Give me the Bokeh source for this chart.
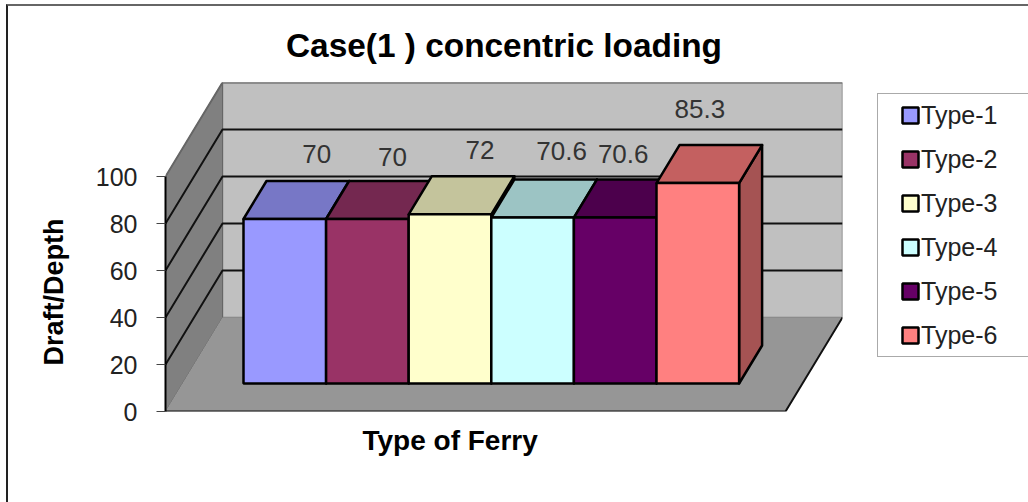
from bokeh.plotting import figure
from bokeh.embed import file_html
from bokeh.resources import INLINE
from bokeh.models import Range1d, FixedTicker, Legend, LegendItem, Title, InlineStyleSheet
from bokeh.core.properties import value

# ---------- data ----------
categories = ["Type-1", "Type-2", "Type-3", "Type-4", "Type-5", "Type-6"]
draft_depth = [70, 70, 72, 70.6, 70.6, 85.3]
value_labels = ["70", "70", "72", "70.6", "70.6", "85.3"]
y_ticks = [0, 20, 40, 60, 80, 100]
front_colors = ["#9999FF", "#993366", "#FFFFCC", "#CCFFFF", "#660066", "#FF8080"]
top_colors = ["#7777C6", "#742850", "#C4C49C", "#9CC4C4", "#4C004C", "#C46060"]
side_colors = ["#636399", "#5E2040", "#A6A685", "#85A6A6", "#420042", "#A55353"]

# ---------- 3D layout (pixels of one bar / one unit) ----------
FONT = "Liberation Sans"
PX_X = 82.6     # pixels per bar
PX_Y = 2.35     # pixels per value unit
FRAME_W, FRAME_H = 677, 329
ux = lambda px: px / PX_X
uy = lambda px: px / PX_Y

x0 = ux(165 - 243)              # front-left corner of the floor
floor_w = ux(785 - 165)
wall_dx, wall_dy = ux(57), uy(94)
bar_dx, bar_dy = ux(23), uy(38)
bar_base = uy(28)
x_end = x0 + ux(FRAME_W)
y_end = uy(FRAME_H)
# hand-placed data labels, as in the source chart (pixels from bar centre / bar top)
label_dx = [32, 25, 30, 29, 8, 2]
label_dy = [65, 62, 64, 67, 64, 74]

p = figure(
    output_backend="svg", toolbar_location=None,
    frame_width=FRAME_W, frame_height=FRAME_H,
    min_border_left=157, min_border_right=186, min_border_top=76, min_border_bottom=91,
    x_range=Range1d(x0, x_end), y_range=Range1d(0, y_end),
    title="Case(1 ) concentric loading",
    margin=(4, 0, 0, 6),
    background_fill_color="white", border_fill_color="white",
    outline_line_color=None,
)
p.styles = {"border-left": "2px solid #222222", "border-top": "2px solid #666666"}
p.grid.visible = False
p.title.align = "center"
p.title.text_font = FONT
p.title.text_font_size = "33.4px"
p.title.text_font_style = "bold"
p.title.text_color = "#000000"
p.title.standoff = 37

ya = p.yaxis[0]
ya.ticker = FixedTicker(ticks=y_ticks)
ya.bounds = (0, 100)
ya.axis_line_color = "#000000"
ya.axis_line_width = 2
ya.major_tick_line_color = "#444444"
ya.major_tick_line_width = 1
ya.major_tick_out = 9
ya.major_tick_in = 0
ya.minor_tick_line_color = None
ya.major_label_standoff = 19
ya.major_label_text_font = FONT
ya.major_label_text_font_size = "25px"
ya.major_label_text_color = "#222222"

xa = p.xaxis[0]
xa.ticker = FixedTicker(ticks=[])
xa.axis_line_color = None
xa.major_tick_line_color = None
xa.minor_tick_line_color = None
xa.major_label_text_font_size = "0px"

# walls and floor
p.patch([x0 + wall_dx, x_end, x_end, x0 + wall_dx],
        [wall_dy, wall_dy, wall_dy + 100, wall_dy + 100],
        fill_color="#C0C0C0", line_color="#808080", line_width=1.5)
p.patch([x0, x0 + wall_dx, x0 + wall_dx, x0],
        [0, wall_dy, wall_dy + 100, 100],
        fill_color="#808080", line_color="#666666", line_width=1)
p.patch([x0, x0 + floor_w, x0 + floor_w + wall_dx, x0 + wall_dx],
        [0, 0, wall_dy, wall_dy],
        fill_color="#969696", line_color=None)
p.line([x0, x0 + floor_w, x0 + floor_w + wall_dx],
       [0, 0, wall_dy], line_color="#111111", line_width=2)

# grid lines on both walls
for t in y_ticks[1:]:
    p.line([x0, x0 + wall_dx, x_end], [t, t + wall_dy, t + wall_dy],
           line_color="#666666" if t == 100 else "#111111", line_width=2)

# bars; the square behind each bar supplies its legend swatch
legend_items = []
for i, (name, v) in enumerate(zip(categories, draft_depth)):
    top = bar_base + v
    l, r = float(i), float(i + 1)
    p.patch([r, r + bar_dx, r + bar_dx, r],
            [bar_base, bar_base + bar_dy, top + bar_dy, top],
            fill_color=side_colors[i], line_color="#000000", line_width=2.5, line_join="round")
    p.patch([l, r, r + bar_dx, l + bar_dx],
            [top, top, top + bar_dy, top + bar_dy],
            fill_color=top_colors[i], line_color="#000000", line_width=2.5, line_join="round")
    swatch = p.scatter(x=[i + 0.5], y=[bar_base + v / 2], marker="square", size=16,
                       fill_color=front_colors[i], line_color="#000000", line_width=2.5)
    p.vbar(x=[i + 0.5], bottom=[bar_base], top=[top], width=1.0,
           fill_color=front_colors[i], line_color="#000000", line_width=2.5)
    legend_items.append(LegendItem(label=name, renderers=[swatch]))

# value labels
p.text(x=[i + 0.5 + ux(d) for i, d in enumerate(label_dx)],
       y=[bar_base + v + uy(d) for v, d in zip(draft_depth, label_dy)],
       text=value_labels, text_align="center", text_baseline="middle",
       text_font=value(FONT), text_font_size="26px", text_color="#333333")

# axis titles sit off-centre in the source
p.add_layout(Title(text="Type of Ferry", align="left", offset=197, standoff=22, text_font=FONT,
                   text_font_size="28px", text_font_style="bold", text_color="#000000"), "below")
p.add_layout(Title(text="Draft/Depth", align="left", offset=46, standoff=47, text_font=FONT,
                   text_font_size="27px", text_font_style="bold", text_color="#000000"), "left")

legend = Legend(items=legend_items, location=(35, 54), margin=0, padding=1, spacing=4,
                glyph_width=62, glyph_height=40, label_standoff=0, label_width=101, label_height=40,
                label_text_font=FONT, label_text_font_size="25px", label_text_color="#222222",
                border_line_color="#555555", border_line_width=1.5,
                background_fill_color="white", background_fill_alpha=1)
legend.stylesheets = [InlineStyleSheet(css='.bk-label, [class*="label"] { position: relative; left: -20px; }')]
p.add_layout(legend, "right")

open("out.html", "w").write(file_html(p, INLINE))
